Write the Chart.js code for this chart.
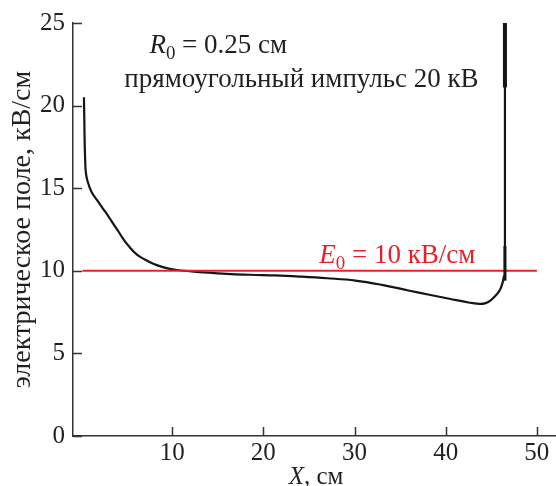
<!DOCTYPE html>
<html>
<head>
<meta charset="utf-8">
<script src="https://cdn.jsdelivr.net/npm/chart.js@4/dist/chart.umd.min.js"></script>
<style>
  body { margin: 0; background: #fff; }
  #wrap { width: 556px; height: 486px; }
</style>
</head>
<body>
<div id="wrap"><canvas id="fieldChart" width="556" height="486"></canvas></div>
<script>
// chart.js – field along the streamer channel

// Main curve, X in cm
const curveX = [0.32, 0.36, 0.40, 0.45, 0.52, 0.70, 1.17, 1.8, 2.44, 3.0, 3.54, 4.1, 4.63, 5.3, 6.1, 7.0, 7.92, 8.8, 9.75, 10.6, 11.4, 13.0,
                15.0, 18.5, 21.3, 24.0, 27.0, 30.1, 33.0, 35.9, 38.2, 40.4, 42.5, 43.7, 44.3, 44.9, 45.66, 46.0, 46.25, 46.4];
// Electric field, kV/cm
const curveE = [20.5, 19.2, 17.8, 16.8, 16.0, 15.45, 14.75, 14.25, 13.74, 13.3, 12.84, 12.38, 11.93, 11.45, 11.0, 10.68, 10.42, 10.25, 10.12, 10.05, 10.0, 9.92,
                9.85, 9.76, 9.72, 9.65, 9.55, 9.41, 9.15, 8.81, 8.55, 8.31, 8.08, 8.0, 8.03, 8.2, 8.61, 8.9, 9.3, 9.7];

// the vertical front
const riseX = [46.4, 46.5, 46.5];
const riseE = [9.7, 10.5, 25.0];

// thicker pieces of the front
const frontX = [46.5, 46.5];
const frontTopE = [21.1, 25.0];
const frontLowE = [9.4, 11.5];

// reference level E0
const e0X = [0.15, 50];
const e0E = [10, 10];

const xTicks = [10, 20, 30, 40, 50];
const yTicks = [0, 5, 10, 15, 20, 25];

const ink = '#231f20';
const red = '#e8202a';
const serif = '"Liberation Serif", "DejaVu Serif", serif';

function toPoints(xs, ys) {
    return xs.map((x, i) => ({ x: x, y: ys[i] }));
}

// draws a run of text pieces (italic / subscript) starting at x
function drawRuns(ctx, runs, x, y, size, color, align) {
    ctx.save();
    ctx.fillStyle = color;
    ctx.textBaseline = 'alphabetic';
    ctx.textAlign = 'left';
    const fontFor = r => (r.italic ? 'italic ' : '') + (r.sub ? size * 0.7 : size) + 'px ' + serif;
    let total = 0;
    runs.forEach(r => { ctx.font = fontFor(r); total += ctx.measureText(r.t).width; });
    let cx = align === 'center' ? x - total / 2 : x;
    runs.forEach(r => {
        ctx.font = fontFor(r);
        ctx.fillText(r.t, cx, y + (r.sub ? size * 0.22 : 0));
        cx += ctx.measureText(r.t).width;
    });
    ctx.restore();
}

const labelsPlugin = {
    id: 'labels',
    afterDraw(chart) {
        const ctx = chart.ctx;
        const xs = chart.scales.x, ys = chart.scales.y;
        const area = chart.chartArea;

        // inner tick marks
        ctx.save();
        ctx.strokeStyle = '#333';
        ctx.lineWidth = 1.5;
        ctx.beginPath();
        yTicks.forEach(v => {
            const py = Math.round(ys.getPixelForValue(v)) + 0.5;
            ctx.moveTo(area.left, py);
            ctx.lineTo(area.left + 9, py);
        });
        xTicks.forEach(v => {
            const px = Math.round(xs.getPixelForValue(v)) + 0.5;
            ctx.moveTo(px, area.bottom);
            ctx.lineTo(px, area.bottom - 9);
        });
        ctx.stroke();
        ctx.restore();

        drawRuns(ctx, [{ t: 'R', italic: true }, { t: '0', sub: true }, { t: ' = 0.25 см' }],
            xs.getPixelForValue(7.5), ys.getPixelForValue(23.2), 27, ink, 'left');
        drawRuns(ctx, [{ t: 'прямоугольный импульс 20 кВ' }],
            xs.getPixelForValue(4.75), ys.getPixelForValue(21.1), 27, ink, 'left');
        drawRuns(ctx, [{ t: 'E', italic: true }, { t: '0', sub: true }, { t: ' = 10 кВ/см' }],
            xs.getPixelForValue(34.7), ys.getPixelForValue(10.45), 27, red, 'center');
        drawRuns(ctx, [{ t: 'X', italic: true }, { t: ', см' }],
            316, 484, 25, ink, 'center');
    }
};

const lineStyle = { showLine: true, borderColor: '#151515', pointRadius: 0 };

new Chart(document.getElementById('fieldChart').getContext('2d'), {
    type: 'scatter',
    data: {
        datasets: [
            { ...lineStyle, data: toPoints(curveX, curveE), borderWidth: 2.2, tension: 0.4, order: 2 },
            { ...lineStyle, data: toPoints(riseX, riseE), borderWidth: 2.2, tension: 0, order: 2 },
            { ...lineStyle, data: toPoints(e0X, e0E), borderColor: red, borderWidth: 2, order: 1 },
            { ...lineStyle, data: toPoints(frontX, frontTopE), borderWidth: 4, order: 0 },
            { ...lineStyle, data: toPoints(frontX, frontLowE), borderWidth: 3, order: 0 }
        ]
    },
    options: {
        responsive: false,
        animation: false,
        layout: { padding: { top: 22, right: 0, left: 0, bottom: 0 } },
        plugins: { legend: { display: false }, tooltip: { enabled: false } },
        scales: {
            x: {
                type: 'linear',
                min: -0.88,
                max: 52.1,
                afterBuildTicks: s => { s.ticks = xTicks.map(v => ({ value: v })); },
                afterFit: s => { s.height = 50; },
                grid: { display: false, drawTicks: false },
                border: { display: true, color: '#333', width: 1.5 },
                ticks: { color: ink, padding: 2, maxRotation: 0, font: { family: serif, size: 25 } }
            },
            y: {
                type: 'linear',
                min: 0,
                max: 25,
                afterBuildTicks: s => { s.ticks = yTicks.map(v => ({ value: v })); },
                afterFit: s => { s.width = 73; },
                grid: { display: false, drawTicks: false },
                border: { display: true, color: '#333', width: 1.5 },
                ticks: { color: ink, padding: 8, font: { family: serif, size: 25 } },
                title: {
                    display: true,
                    text: 'электрическое поле, кВ/см',
                    color: ink,
                    padding: { top: 6, bottom: 0 },
                    font: { family: serif, size: 28 }
                }
            }
        }
    },
    plugins: [labelsPlugin]
});
</script>
</body>
</html>
